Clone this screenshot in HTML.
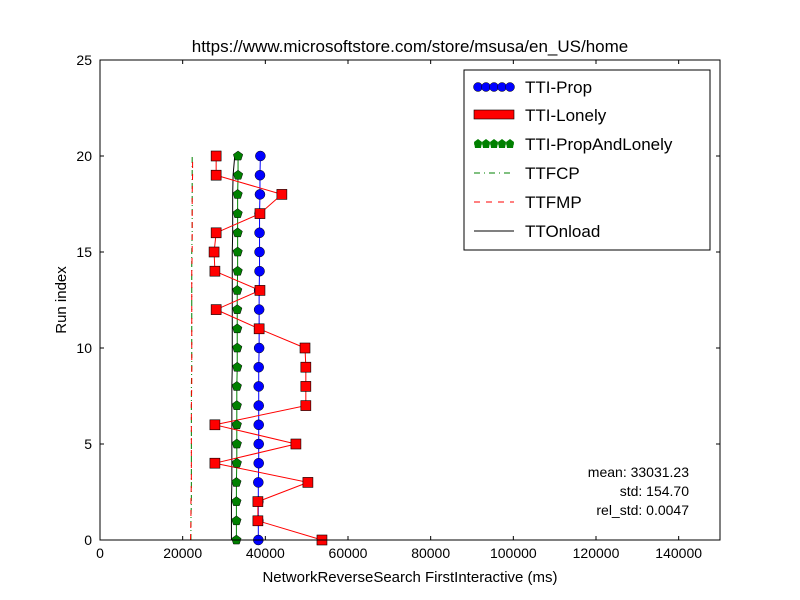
<!DOCTYPE html>
<html><head><meta charset="utf-8"><style>
body{margin:0;background:#fff;}
svg{font-family:"Liberation Sans",sans-serif;display:block;}
</style></head><body>
<svg id="c" width="800" height="600" xmlns="http://www.w3.org/2000/svg">
<rect width="800" height="600" fill="#fff"/>
<g id="plot"></g>
<text x="410" y="52" text-anchor="middle" font-size="17">https://www.microsoftstore.com/store/msusa/en_US/home</text>
<text x="410" y="582" text-anchor="middle" font-size="15">NetworkReverseSearch FirstInteractive (ms)</text>
<text transform="translate(66,300) rotate(-90)" text-anchor="middle" font-size="15">Run index</text>
<g font-size="14" text-anchor="end">
<text x="689" y="477">mean: 33031.23</text>
<text x="689" y="496">std: 154.70</text>
<text x="689" y="515">rel_std: 0.0047</text>
</g>
<g font-size="17">
<rect x="464" y="70" width="246" height="180" fill="#fff" stroke="#000"/>
<g><line x1="474" x2="514" y1="87" y2="87" stroke="#00f"/><circle cx="478" cy="87" r="4.5" fill="#00f" stroke="#000" stroke-width=".5"/><circle cx="486" cy="87" r="4.5" fill="#00f" stroke="#000" stroke-width=".5"/><circle cx="494" cy="87" r="4.5" fill="#00f" stroke="#000" stroke-width=".5"/><circle cx="502" cy="87" r="4.5" fill="#00f" stroke="#000" stroke-width=".5"/><circle cx="510" cy="87" r="4.5" fill="#00f" stroke="#000" stroke-width=".5"/><text x="525" y="93">TTI-Prop</text></g>
<g><rect x="474" y="110" width="40" height="9" fill="#f00" stroke="#000" stroke-width=".6"/><text x="525" y="121">TTI-Lonely</text></g>
<g><line x1="474" x2="514" y1="144" y2="144" stroke="#008000"/><polygon points="478,139 482,142 481,148 475,148 474,142" fill="#008000"/><polygon points="486,139 490,142 489,148 483,148 482,142" fill="#008000"/><polygon points="494,139 498,142 497,148 491,148 490,142" fill="#008000"/><polygon points="502,139 506,142 505,148 499,148 498,142" fill="#008000"/><polygon points="510,139 514,142 513,148 507,148 506,142" fill="#008000"/><text x="525" y="150">TTI-PropAndLonely</text></g>
<g><line x1="474" x2="514" y1="173" y2="173" stroke="#008000" stroke-dasharray="6,4,1,4"/><text x="525" y="179">TTFCP</text></g>
<g><line x1="474" x2="514" y1="202" y2="202" stroke="#f00" stroke-dasharray="6,6"/><text x="525" y="208">TTFMP</text></g>
<g><line x1="474" x2="514" y1="231" y2="231" stroke="#000"/><text x="525" y="237">TTOnload</text></g>
</g>
</svg>
<script>
const runs=[0,1,2,3,4,5,6,7,8,9,10,11,12,13,14,15,16,17,18,19,20];
const ttiProp=[38300,38300,38300,38300,38400,38400,38400,38400,38400,38400,38500,38500,38500,38500,38600,38600,38600,38600,38700,38700,38800];
const ttiLonely=[53700,38200,38200,50300,27800,47400,27800,49800,49800,49800,49600,38500,28100,38700,27800,27600,28100,38700,44000,28100,28100];
const ttiPAL=[33000,33000,33000,33000,33100,33100,33100,33100,33100,33200,33200,33200,33200,33200,33300,33300,33300,33300,33300,33400,33400];
const ttfcp=[22000,22000,22100,22100,22100,22100,22100,22100,22100,22200,22200,22200,22200,22200,22200,22200,22300,22300,22300,22300,22300];
const ttfmp=[21900,22000,22000,22100,22100,22100,22100,22100,22200,22200,22200,22200,22200,22200,22200,22300,22300,22300,22300,22400,22400];
const ttOnload=[31800,31800,31800,31900,31900,31900,31900,31900,31900,32000,32000,32000,32000,32000,32000,32000,32100,32100,32100,32200,32600];
const xTicks=[0,20000,40000,60000,80000,100000,120000,140000];
const yTicks=[0,5,10,15,20,25];
const L=100,R=720,T=60,B=540;
const X=v=>L+(v/150000)*(R-L);
const Y=v=>B-(v/25)*(B-T);
const NS="http://www.w3.org/2000/svg";
const g=document.getElementById('plot');
function mk(t,a,p){const e=document.createElementNS(NS,t);for(const k in a)e.setAttribute(k,a[k]);(p||g).appendChild(e);return e;}
function pts(arr){return arr.map((v,i)=>X(v)+','+Y(runs[i])).join(' ');}
let e;
e=mk('polyline',{points:pts(ttfcp),fill:'none',stroke:'#008000','stroke-dasharray':'6,3,1,3'});

e=mk('polyline',{points:pts(ttfmp),fill:'none',stroke:'#f00','stroke-dasharray':'6,6'});

e=mk('polyline',{points:pts(ttOnload),fill:'none',stroke:'#000'});

e=mk('polyline',{points:pts(ttiPAL),fill:'none',stroke:'#008000'});

e=mk('polyline',{points:pts(ttiProp),fill:'none',stroke:'#00f'});

e=mk('polyline',{points:pts(ttiLonely),fill:'none',stroke:'#f00'});

function pent(cx,cy,r){let s=[];for(let k=0;k<5;k++){const a=-Math.PI/2+k*2*Math.PI/5;s.push((cx+r*Math.cos(a))+','+(cy+r*Math.sin(a)));}return s.join(' ');}
ttiPAL.forEach((v,i)=>{const m=mk('polygon',{points:pent(X(v),Y(runs[i]),5),fill:'#008000',stroke:'#000','stroke-width':0.5});
});
ttiProp.forEach((v,i)=>{const m=mk('circle',{cx:X(v),cy:Y(runs[i]),r:5,fill:'#00f',stroke:'#000','stroke-width':0.5});
});
ttiLonely.forEach((v,i)=>{const m=mk('rect',{x:X(v)-5,y:Y(runs[i])-5,width:10,height:10,fill:'#f00',stroke:'#000','stroke-width':0.6});
});
e=mk('rect',{x:L,y:T,width:R-L,height:B-T,fill:'none',stroke:'#000'});

xTicks.forEach(v=>{mk('line',{x1:X(v),x2:X(v),y1:B,y2:B-4,stroke:'#000'});mk('line',{x1:X(v),x2:X(v),y1:T,y2:T+4,stroke:'#000'});
const t=mk('text',{x:X(v),y:B+18,'text-anchor':'middle','font-size':14});t.textContent=v;
});
yTicks.forEach(v=>{mk('line',{x1:L,x2:L+4,y1:Y(v),y2:Y(v),stroke:'#000'});mk('line',{x1:R,x2:R-4,y1:Y(v),y2:Y(v),stroke:'#000'});
const t=mk('text',{x:L-8,y:Y(v)+5,'text-anchor':'end','font-size':14});t.textContent=v;
});
</script>
</body></html>
